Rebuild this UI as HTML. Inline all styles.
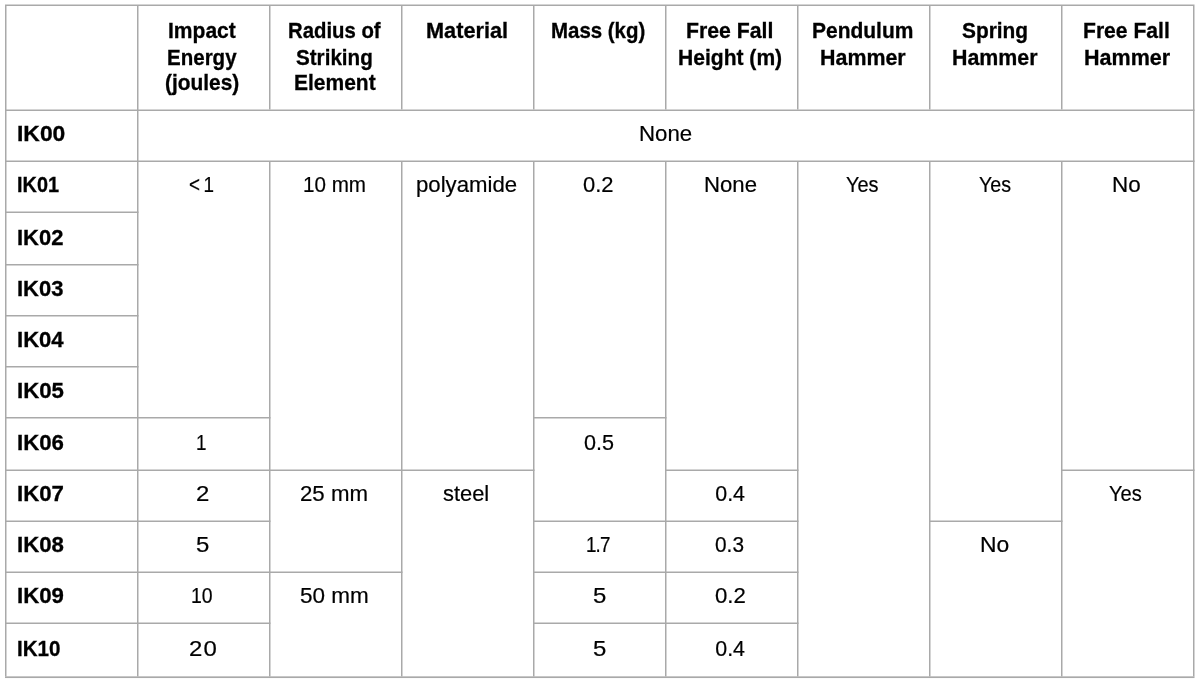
<!DOCTYPE html>
<html><head><meta charset="utf-8"><style>
html,body{margin:0;padding:0;background:#fff;}
body{width:1200px;height:683px;position:relative;overflow:hidden;font-family:"Liberation Sans",sans-serif;}
#wrap{position:absolute;left:0;top:0;width:1200px;height:683px;background:#fff;filter:grayscale(1);}
svg{position:absolute;left:0;top:0;}
.t{position:absolute;display:inline-block;white-space:nowrap;font-size:21.40px;line-height:26.00px;color:#000;transform-origin:0 0;-webkit-text-stroke:0.2px #000;}
.b{font-weight:bold;-webkit-text-stroke:0.3px #000;}
</style></head><body><div id="wrap">
<svg width="1200" height="683" viewBox="0 0 1200 683" shape-rendering="geometricPrecision"><g fill="#a9a9a9"><rect x="5.00" y="4.50" width="1189.50" height="1.50"/><rect x="5.00" y="109.50" width="1189.50" height="1.50"/><rect x="5.00" y="160.50" width="1189.50" height="1.50"/><rect x="5.00" y="211.50" width="133.50" height="1.50"/><rect x="5.00" y="264.00" width="133.50" height="1.50"/><rect x="5.00" y="315.00" width="133.50" height="1.50"/><rect x="5.00" y="366.00" width="133.50" height="1.50"/><rect x="5.00" y="417.00" width="265.50" height="1.50"/><rect x="533.00" y="417.00" width="133.50" height="1.50"/><rect x="5.00" y="469.50" width="529.50" height="1.50"/><rect x="665.00" y="469.50" width="133.50" height="1.50"/><rect x="1061.00" y="469.50" width="133.50" height="1.50"/><rect x="5.00" y="520.50" width="265.50" height="1.50"/><rect x="533.00" y="520.50" width="265.50" height="1.50"/><rect x="929.00" y="520.50" width="133.50" height="1.50"/><rect x="5.00" y="571.50" width="397.50" height="1.50"/><rect x="533.00" y="571.50" width="265.50" height="1.50"/><rect x="5.00" y="622.50" width="265.50" height="1.50"/><rect x="533.00" y="622.50" width="265.50" height="1.50"/><rect x="5.00" y="676.35" width="1189.50" height="1.70"/><rect x="5.00" y="6.00" width="1.50" height="670.45"/><rect x="137.00" y="6.00" width="1.50" height="670.45"/><rect x="269.00" y="6.00" width="1.50" height="103.50"/><rect x="269.00" y="162.00" width="1.50" height="514.45"/><rect x="401.00" y="6.00" width="1.50" height="103.50"/><rect x="401.00" y="162.00" width="1.50" height="514.45"/><rect x="533.00" y="6.00" width="1.50" height="103.50"/><rect x="533.00" y="162.00" width="1.50" height="514.45"/><rect x="665.00" y="6.00" width="1.50" height="103.50"/><rect x="665.00" y="162.00" width="1.50" height="514.45"/><rect x="797.00" y="6.00" width="1.50" height="103.50"/><rect x="797.00" y="162.00" width="1.50" height="514.45"/><rect x="929.00" y="6.00" width="1.50" height="103.50"/><rect x="929.00" y="162.00" width="1.50" height="514.45"/><rect x="1061.00" y="6.00" width="1.50" height="103.50"/><rect x="1061.00" y="162.00" width="1.50" height="514.45"/><rect x="1193.00" y="6.00" width="1.50" height="670.45"/></g></svg>
<span id="t0" class="t b" style="left:168.07px;top:18.48px;letter-spacing:0.000px;transform:scaleX(0.9838)">Impact</span>
<span id="t1" class="t b" style="left:166.90px;top:45.08px;letter-spacing:0.000px;transform:scaleX(0.9592)">Energy</span>
<span id="t2" class="t b" style="left:164.78px;top:70.28px;letter-spacing:0.000px;transform:scaleX(0.9757)">(joules)</span>
<span id="t3" class="t b" style="left:287.61px;top:18.48px;letter-spacing:0.000px;transform:scaleX(0.9500)">Radius of</span>
<span id="t4" class="t b" style="left:295.76px;top:45.08px;letter-spacing:0.000px;transform:scaleX(0.9641)">Striking</span>
<span id="t5" class="t b" style="left:293.77px;top:70.28px;letter-spacing:0.000px;transform:scaleX(0.9817)">Element</span>
<span id="t6" class="t b" style="left:425.83px;top:18.48px;letter-spacing:0.000px;transform:scaleX(1.0147)">Material</span>
<span id="t7" class="t b" style="left:551.31px;top:18.48px;letter-spacing:0.000px;transform:scaleX(0.9557)">Mass (kg)</span>
<span id="t8" class="t b" style="left:686.26px;top:18.48px;letter-spacing:0.000px;transform:scaleX(0.9929)">Free Fall</span>
<span id="t9" class="t b" style="left:678.37px;top:45.08px;letter-spacing:0.000px;transform:scaleX(0.9846)">Height (m)</span>
<span id="t10" class="t b" style="left:811.77px;top:18.48px;letter-spacing:0.000px;transform:scaleX(0.9802)">Pendulum</span>
<span id="t11" class="t b" style="left:820.05px;top:45.08px;letter-spacing:0.000px;transform:scaleX(1.0000)">Hammer</span>
<span id="t12" class="t b" style="left:962.46px;top:18.48px;letter-spacing:0.000px;transform:scaleX(0.9758)">Spring</span>
<span id="t13" class="t b" style="left:952.15px;top:45.08px;letter-spacing:0.000px;transform:scaleX(0.9988)">Hammer</span>
<span id="t14" class="t b" style="left:1082.87px;top:18.48px;letter-spacing:0.000px;transform:scaleX(0.9859)">Free Fall</span>
<span id="t15" class="t b" style="left:1083.74px;top:45.08px;letter-spacing:0.000px;transform:scaleX(1.0060)">Hammer</span>
<span id="t16" class="t b" style="left:16.53px;top:121.28px;letter-spacing:0.000px;transform:scaleX(1.0698)">IK00</span>
<span id="t17" class="t b" style="left:16.67px;top:172.48px;letter-spacing:0.000px;transform:scaleX(0.9295)">IK01</span>
<span id="t18" class="t b" style="left:16.57px;top:225.38px;letter-spacing:0.000px;transform:scaleX(1.0273)">IK02</span>
<span id="t19" class="t b" style="left:16.57px;top:276.48px;letter-spacing:0.000px;transform:scaleX(1.0273)">IK03</span>
<span id="t20" class="t b" style="left:16.57px;top:327.48px;letter-spacing:0.000px;transform:scaleX(1.0318)">IK04</span>
<span id="t21" class="t b" style="left:16.56px;top:378.28px;letter-spacing:0.000px;transform:scaleX(1.0386)">IK05</span>
<span id="t22" class="t b" style="left:16.56px;top:430.48px;letter-spacing:0.000px;transform:scaleX(1.0386)">IK06</span>
<span id="t23" class="t b" style="left:16.56px;top:481.28px;letter-spacing:0.000px;transform:scaleX(1.0395)">IK07</span>
<span id="t24" class="t b" style="left:16.56px;top:532.28px;letter-spacing:0.000px;transform:scaleX(1.0386)">IK08</span>
<span id="t25" class="t b" style="left:16.56px;top:583.28px;letter-spacing:0.000px;transform:scaleX(1.0386)">IK09</span>
<span id="t26" class="t b" style="left:16.64px;top:636.48px;letter-spacing:0.000px;transform:scaleX(0.9628)">IK10</span>
<span id="t27" class="t" style="left:638.70px;top:121.28px;letter-spacing:0.000px;transform:scaleX(1.0388)">None</span>
<span id="t28" class="t" style="left:189.30px;top:172.48px;letter-spacing:-1.045px;transform:scaleX(0.8800)">&lt; 1</span>
<span id="t29" class="t" style="left:196.25px;top:430.48px;letter-spacing:0.000px;transform:scaleX(0.8800)">1</span>
<span id="t30" class="t" style="left:196.15px;top:481.28px;letter-spacing:0.000px;transform:scaleX(1.1200)">2</span>
<span id="t31" class="t" style="left:196.38px;top:532.28px;letter-spacing:0.000px;transform:scaleX(1.1200)">5</span>
<span id="t32" class="t" style="left:190.86px;top:583.28px;letter-spacing:0.000px;transform:scaleX(0.9091)">10</span>
<span id="t33" class="t" style="left:189.10px;top:636.48px;letter-spacing:0.991px;transform:scaleX(1.1200)">20</span>
<span id="t34" class="t" style="left:303.04px;top:172.48px;letter-spacing:0.000px;transform:scaleX(0.9643)">10 mm</span>
<span id="t35" class="t" style="left:299.95px;top:481.28px;letter-spacing:0.000px;transform:scaleX(1.0397)">25 mm</span>
<span id="t36" class="t" style="left:299.94px;top:583.28px;letter-spacing:0.000px;transform:scaleX(1.0516)">50 mm</span>
<span id="t37" class="t" style="left:415.70px;top:172.48px;letter-spacing:0.000px;transform:scaleX(1.0368)">polyamide</span>
<span id="t38" class="t" style="left:442.74px;top:481.28px;letter-spacing:0.000px;transform:scaleX(1.0227)">steel</span>
<span id="t39" class="t" style="left:583.49px;top:172.48px;letter-spacing:0.000px;transform:scaleX(1.0268)">0.2</span>
<span id="t40" class="t" style="left:583.50px;top:430.48px;letter-spacing:0.000px;transform:scaleX(1.0086)">0.5</span>
<span id="t41" class="t" style="left:586.40px;top:532.28px;letter-spacing:-1.000px;transform:scaleX(0.8800)">1.7</span>
<span id="t42" class="t" style="left:592.62px;top:583.28px;letter-spacing:0.000px;transform:scaleX(1.1200)">5</span>
<span id="t43" class="t" style="left:592.62px;top:636.48px;letter-spacing:0.000px;transform:scaleX(1.1200)">5</span>
<span id="t44" class="t" style="left:704.21px;top:172.48px;letter-spacing:-0.000px;transform:scaleX(1.0357)">None</span>
<span id="t45" class="t" style="left:715.25px;top:481.28px;letter-spacing:0.000px;transform:scaleX(1.0000)">0.4</span>
<span id="t46" class="t" style="left:715.26px;top:532.28px;letter-spacing:0.000px;transform:scaleX(0.9741)">0.3</span>
<span id="t47" class="t" style="left:715.24px;top:583.28px;letter-spacing:-0.000px;transform:scaleX(1.0357)">0.2</span>
<span id="t48" class="t" style="left:715.25px;top:636.48px;letter-spacing:0.000px;transform:scaleX(1.0000)">0.4</span>
<span id="t49" class="t" style="left:846.02px;top:172.48px;letter-spacing:0.000px;transform:scaleX(0.9338)">Yes</span>
<span id="t50" class="t" style="left:978.52px;top:172.48px;letter-spacing:0.000px;transform:scaleX(0.9191)">Yes</span>
<span id="t51" class="t" style="left:979.91px;top:532.28px;letter-spacing:0.000px;transform:scaleX(1.0700)">No</span>
<span id="t52" class="t" style="left:1112.39px;top:172.48px;letter-spacing:0.000px;transform:scaleX(1.0480)">No</span>
<span id="t53" class="t" style="left:1109.46px;top:481.28px;letter-spacing:0.000px;transform:scaleX(0.9412)">Yes</span>
</div></body></html>
